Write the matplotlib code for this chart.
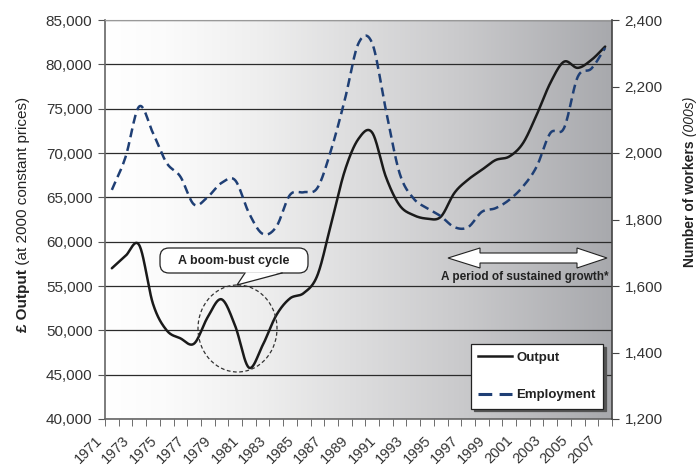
import numpy as np
import matplotlib.pyplot as plt
import matplotlib.transforms as mtransforms
from matplotlib.colors import LinearSegmentedColormap
from matplotlib.patches import FancyBboxPatch, Polygon, Ellipse
from matplotlib.lines import Line2D

plt.rcParams['font.family'] = ['Liberation Sans', 'DejaVu Sans']

# data
years = list(range(1971, 2008))
output = [57000, 58400, 59600, 53000, 50000, 49100, 48500, 51500, 53500, 50500,
          45800, 48300, 51700, 53600, 54200, 56200, 62000, 68000, 71600, 72300,
          67300, 64100, 63000, 62600, 62800, 65500, 67000, 68100, 69200, 69600,
          71100, 74300, 77900, 80300, 79600, 80500, 82000]
employment = [1889, 1988, 2140, 2060, 1970, 1929, 1845, 1868, 1910, 1918,
              1820, 1757, 1778, 1874, 1882, 1895, 2009, 2160, 2330, 2330,
              2129, 1939, 1864, 1834, 1810, 1777, 1777, 1823, 1834, 1859,
              1899, 1959, 2060, 2075, 2229, 2254, 2316]
left_ticks = list(range(40000, 85001, 5000))
right_ticks = list(range(1200, 2401, 200))

OUT_COL = '#1a1a1a'
EMP_COL = '#1f3f75'


def smooth(x, y, n=24):
    # catmull-rom curve through the points (like a smoothed excel line)
    x = np.asarray(x, float)
    y = np.asarray(y, float)
    px = np.concatenate([[2 * x[0] - x[1]], x, [2 * x[-1] - x[-2]]])
    py = np.concatenate([[2 * y[0] - y[1]], y, [2 * y[-1] - y[-2]]])
    xs, ys = [], []
    t = np.linspace(0, 1, n, endpoint=False)
    for i in range(1, len(px) - 2):
        for p, out in ((px, xs), (py, ys)):
            p0, p1, p2, p3 = p[i - 1], p[i], p[i + 1], p[i + 2]
            out.extend(0.5 * (2 * p1 + (-p0 + p2) * t
                              + (2 * p0 - 5 * p1 + 4 * p2 - p3) * t ** 2
                              + (-p0 + 3 * p1 - 3 * p2 + p3) * t ** 3))
    xs.append(x[-1])
    ys.append(y[-1])
    return np.array(xs), np.array(ys)


fig = plt.figure(figsize=(6.96, 4.66), dpi=100)
ax = fig.add_axes([105 / 696, 1 - 419 / 466, 507 / 696, 399 / 466])
ax2 = ax.twinx()

# background gradient
cmap = LinearSegmentedColormap.from_list(
    'bg', [(0, '#ffffff'), (0.12, '#fbfbfb'), (0.3, '#efefef'),
           (0.7, '#cacacc'), (1.0, '#a8a9ad')])
grad = np.linspace(0, 1, 256).reshape(1, -1)
ax.imshow(grad, extent=[0, 1, 0, 1], transform=ax.transAxes, aspect='auto',
          cmap=cmap, zorder=0)

xpos = np.arange(len(years))
sx, sy = smooth(xpos, output)
ax.plot(sx, sy, color=OUT_COL, lw=1.8, zorder=3, solid_capstyle='round')
ex, ey = smooth(xpos, employment)
ax2.plot(ex, ey, color=EMP_COL, lw=1.8, dashes=(3.6, 2.0))

ax.set_xlim(-0.5, len(years) - 0.5)
ax.set_ylim(40000, 85000)
ax2.set_ylim(1200, 2400)

ax.set_yticks(left_ticks)
ax.set_yticklabels([f'{v:,}' for v in left_ticks])
ax2.set_yticks(right_ticks)
ax2.set_yticklabels([f'{v:,}' for v in right_ticks])
ax.yaxis.grid(True, color='#2b2b2b', lw=0.9)
ax.set_axisbelow(True)

ax.set_xticks(xpos[::2])
ax.set_xticklabels([str(y) for y in years[::2]], rotation=45, ha='right', va='center',
                   rotation_mode='anchor')
ax.set_xticks(np.arange(-0.5, len(years)), minor=True)
ax.tick_params(axis='x', which='major', length=0, pad=0, labelsize=10.5, labelcolor='#333333')
ax.tick_params(axis='x', which='minor', length=5, color='#555555', direction='out')
ax.tick_params(axis='y', length=5, color='#555555', labelsize=11, labelcolor='#333333', pad=4)
ax2.tick_params(axis='y', length=5, color='#444444', labelsize=11, labelcolor='#333333', pad=4)
offset = mtransforms.ScaledTranslation(-0.12, -0.19, fig.dpi_scale_trans)
for lab in ax.get_xticklabels():
    lab.set_transform(lab.get_transform() + offset)

for s in ('top', 'left', 'bottom'):
    ax2.spines[s].set_visible(False)
ax.spines['right'].set_visible(False)
ax.spines['top'].set_color('#999999')
ax.spines['left'].set_color('#666666')
ax.spines['bottom'].set_color('#666666')
ax2.spines['right'].set_color('#444444')
ax.spines['left'].set_linewidth(1.2)
ax.spines['bottom'].set_linewidth(1.2)
ax2.spines['right'].set_linewidth(1.2)

# overlay in image pixel coords for the annotations
ov = fig.add_axes([0, 0, 1, 1])
ov.set_xlim(0, 696)
ov.set_ylim(466, 0)
ov.axis('off')

# boom-bust bubble
bubble = FancyBboxPatch((160, 248), 148, 25, boxstyle='round,pad=0,rounding_size=9',
                        fc='white', ec='#222222', lw=0.9, zorder=5)
ov.add_patch(bubble)
ov.add_patch(Polygon([(244.5, 272.2), (237, 285), (282, 272.2)], closed=True,
                     fc='white', ec='none', zorder=6))
ov.plot([245, 237, 282], [273, 285, 273], color='#222222', lw=0.9, zorder=7)
ov.text(234, 261, 'A boom-bust cycle', ha='center', va='center', fontsize=9,
        weight='bold', color='#222222', zorder=8)
ov.add_patch(Ellipse((237.5, 328.5), 79, 87, fill=False, ec='#333333', lw=0.9,
                     ls=(0, (3, 2)), zorder=5))

# sustained growth arrow
arrow = [(448, 258), (480, 248), (480, 253), (577, 253), (577, 248), (607, 258),
         (577, 268), (577, 263), (480, 263), (480, 268)]
ov.add_patch(Polygon(arrow, closed=True, fc='white', ec='#222222', lw=0.8, zorder=5))
ov.text(525, 277, 'A period of sustained growth*', ha='center', va='center',
        fontsize=8.5, weight='bold', color='#222222', zorder=6)

# legend
handles = [Line2D([], [], color=OUT_COL, lw=1.8),
           Line2D([], [], color=EMP_COL, lw=2.2, dashes=(4.5, 2.4))]
leg = ov.legend(handles, ['Output', 'Employment'], loc='center',
                bbox_to_anchor=(537, 376.5), bbox_transform=ov.transData,
                frameon=True, fancybox=False, edgecolor='#222222',
                prop={'weight': 'bold', 'size': 9.5}, handlelength=2.6,
                handletextpad=0.3, labelspacing=1.9, borderpad=0.55,
                shadow={'color': '#555555', 'alpha': 1.0})
leg.get_frame().set_linewidth(0.9)
for t in leg.get_texts():
    t.set_color('#222222')

# axis titles with mixed styles
fig.canvas.draw()
r = fig.canvas.get_renderer()
t1 = ov.text(27, 332, '£ Output', rotation=90, rotation_mode='anchor', ha='left',
             va='baseline', weight='bold', fontsize=11, color='#222222')
h1 = t1.get_window_extent(r).height
ov.text(27, 332 - h1, ' (at 2000 constant prices)', rotation=90, rotation_mode='anchor',
        ha='left', va='baseline', fontsize=11, color='#222222')

t3 = ov.text(694, 267, 'Number of workers', rotation=90, rotation_mode='anchor',
             ha='left', va='baseline', weight='bold', fontsize=10, color='#222222')
h3 = t3.get_window_extent(r).height
ov.text(694, 267 - h3, ' (000s)', rotation=90, rotation_mode='anchor', ha='left',
        va='baseline', style='italic', fontsize=10, color='#222222')

fig.savefig('out.png', dpi=100)
